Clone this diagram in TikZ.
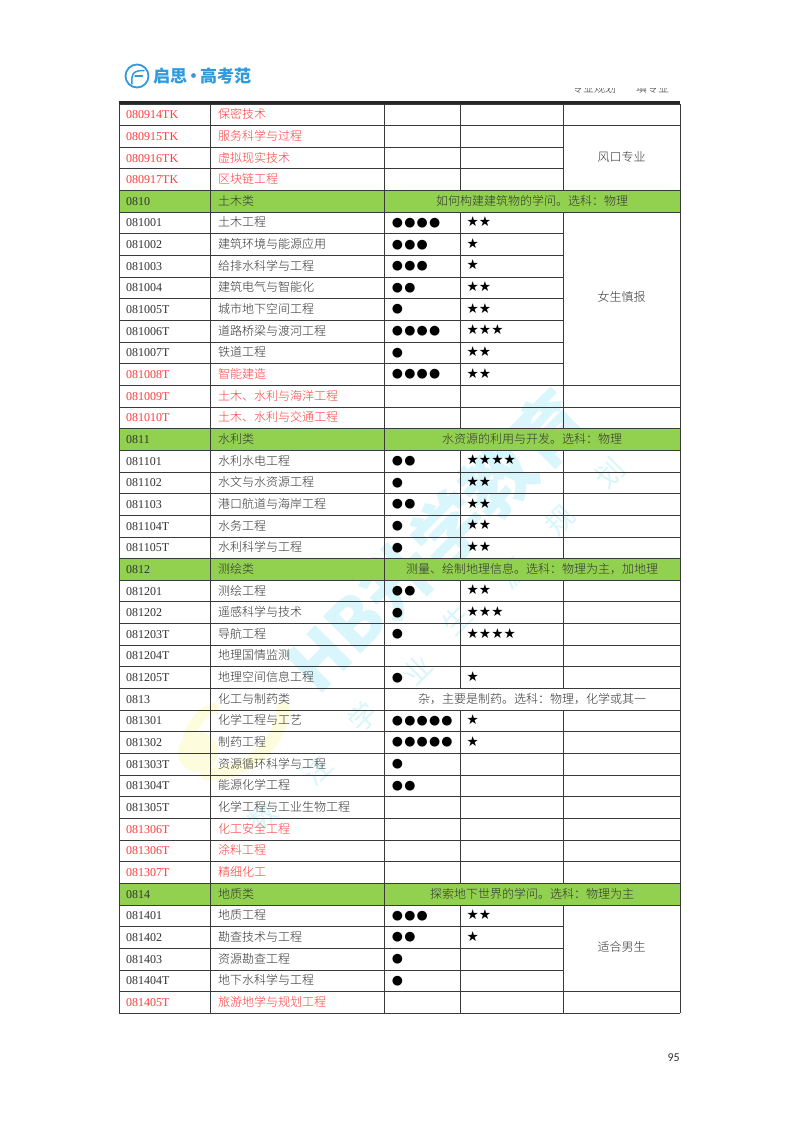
\documentclass[tikz,border=0pt]{standalone}
\usepackage{fontspec}
\setmainfont{Liberation Serif}
\newfontfamily\cjk{Noto Sans CJK SC Light}
\newfontfamily\cjkr{Noto Sans CJK SC}
\newfontfamily\cjkk{Noto Sans CJK SC Black}
\newfontfamily\sym{DejaVu Sans}
\newfontfamily\dotfont[LetterSpace=9.4]{DejaVu Sans}
\newfontfamily\pagefont{Carlito}
\definecolor{ink}{HTML}{333333}
\definecolor{redink}{HTML}{FF3B3B}
\definecolor{hdr}{HTML}{92D050}
\definecolor{rule}{HTML}{3A3A3A}
\definecolor{wm}{HTML}{D8F6FB}
\definecolor{wmy}{HTML}{FDFCDC}
\definecolor{brand}{HTML}{2F9BDC}
\newcount\rowno
\rowno=0
\newcommand{\rowY}[1]{\pgfmathsetmacro{\yy}{104+21.65*#1+14.7}}
\tikzset{
 codetext/.style={anchor=base west,inner sep=0pt,font=\fontsize{12}{14}\selectfont},
 nametext/.style={anchor=base west,inner sep=0pt,font=\fontsize{12}{14}\selectfont\cjk},
 desctext/.style={anchor=base,inner sep=0pt,font=\fontsize{12}{14}\selectfont\cjk,text=ink},
 dotstext/.style={anchor=base west,inner sep=0pt,font=\fontsize{12.8}{14}\selectfont\dotfont,text=black},
 starstext/.style={anchor=base west,inner sep=0pt,font=\fontsize{13.7}{16}\selectfont\sym,text=black},
 gridline/.style={draw=rule,line width=1pt},
 wmsmall/.style={inner sep=0pt,rotate=45,text=wm,font=\fontsize{28}{30}\selectfont\cjkr},
}
% colour, code, name, dots, stars
\newcommand{\mrow}[5]{%
 \rowY{\the\rowno}%
 \node[codetext,text=#1] (code\number\rowno) at (126,\yy) {#2};
 \node[nametext,text=#1] (name\number\rowno) at (218,\yy) {#3};
 \node[dotstext] (dots\number\rowno) at (391.7,\yy-0.6) {#4};
 \node[starstext] (star\number\rowno) at (466.5,\yy-0.3) {#5};
 \global\advance\rowno by 1
}
% code, name, description
\newcommand{\hrow}[3]{%
 \rowY{\the\rowno}%
 \node[codetext,text=ink] (code\number\rowno) at (126,\yy) {#1};
 \node[nametext,text=ink] (name\number\rowno) at (218,\yy) {#2};
 \node[desctext] (desc\number\rowno) at (532,\yy) {#3};
 \global\advance\rowno by 1
}
\begin{document}
\begin{tikzpicture}[x=1pt,y=-1pt]
\useasboundingbox (0,0) rectangle (800,1132);
\fill[white] (0,0) rectangle (800,1132);
% watermark
\fill[wmy] (198,752) circle (20);
\draw[wmy,line width=13pt,line cap=round] (207,774) .. controls (245,775) and (282,745) .. (283,708);
\draw[wmy,line width=11pt,line cap=round] (188,738) .. controls (193,722) and (203,712) .. (214,708);
\node[inner sep=0pt,rotate=45,text=wm,font=\fontsize{71}{76}\selectfont\cjkk] (wmbig) at (436,541) {HB升学教育};
\foreach \wx/\wy/\wt/\wn in {263/817/数/a,317/770/注/b,363/717/学/c,417/670/业/d,457/620/生/e,513/573/涯/f,560/520/规/g,610/473/划/h}
 \node[wmsmall] (wm\wn) at (\wx,\wy) {\wt};
% logo
\draw[brand,line width=1.8pt] (137,76) circle (11.5);
\draw[brand,line width=1.5pt,line cap=round] (132,84) .. controls (131,73) and (134,70.5) .. (144,70.5);
\draw[brand,line width=1.5pt,line cap=round] (135,76) -- (142.5,76);
\node[inner sep=0pt,anchor=base west,text=brand,font=\fontsize{17}{18}\selectfont\cjkk] (brandname) at (153,82.5) {启思\hspace{-2pt}·\hspace{-2pt}高考范};
% clipped running head
\begin{scope}
\clip (560,88.5) rectangle (690,94);
\node[inner sep=0pt,anchor=base west,text=ink,font=\fontsize{11}{12}\selectfont\cjk] (heada) at (572,92.5) {专业规划};
\node[inner sep=0pt,anchor=base west,text=ink,font=\fontsize{11}{12}\selectfont\cjk] (headb) at (636,92.5) {填专业};
\end{scope}
% header fills
\foreach \h in {4,15,21,36}
 \fill[hdr] (119,{104+21.65*\h}) rectangle (680,{104+21.65*(\h+1)});
% grid: horizontals
\foreach \i in {0,...,42}
 \draw[gridline] (119,{104+21.65*\i}) -- (563,{104+21.65*\i});
\foreach \i in {0,1,4,5,13,14,15,16,17,18,19,20,21,22,23,24,25,26,27,28,29,30,31,32,33,34,35,36,37,41,42}
 \draw[gridline] (563,{104+21.65*\i}) -- (680,{104+21.65*\i});
% grid: verticals
\foreach \cx in {119.5,210.5,384.5,680}
 \draw[gridline] (\cx,104) -- (\cx,{104+21.65*42});
\foreach \i in {0,1,2,3,5,6,7,8,9,10,11,12,13,14,16,17,18,19,20,22,23,24,25,26,28,29,30,31,32,33,34,35,37,38,39,40,41}{
 \draw[gridline] (460,{104+21.65*\i}) -- (460,{104+21.65*(\i+1)});
 \draw[gridline] (563,{104+21.65*\i}) -- (563,{104+21.65*(\i+1)});
}
\draw[draw=black!85,line width=3pt] (119,102.7) -- (680,102.7);
% rows
\mrow{redink}{080914TK}{保密技术}{}{}
\mrow{redink}{080915TK}{服务科学与过程}{}{}
\mrow{redink}{080916TK}{虚拟现实技术}{}{}
\mrow{redink}{080917TK}{区块链工程}{}{}
\hrow{0810}{土木类}{如何构建建筑物的学问。选科：物理}
\mrow{ink}{081001}{土木工程}{●●●●}{★★}
\mrow{ink}{081002}{建筑环境与能源应用}{●●●}{★}
\mrow{ink}{081003}{给排水科学与工程}{●●●}{★}
\mrow{ink}{081004}{建筑电气与智能化}{●●}{★★}
\mrow{ink}{081005T}{城市地下空间工程}{●}{★★}
\mrow{ink}{081006T}{道路桥梁与渡河工程}{●●●●}{★★★}
\mrow{ink}{081007T}{铁道工程}{●}{★★}
\mrow{redink}{081008T}{智能建造}{●●●●}{★★}
\mrow{redink}{081009T}{土木、水利与海洋工程}{}{}
\mrow{redink}{081010T}{土木、水利与交通工程}{}{}
\hrow{0811}{水利类}{水资源的利用与开发。选科：物理}
\mrow{ink}{081101}{水利水电工程}{●●}{★★★★}
\mrow{ink}{081102}{水文与水资源工程}{●}{★★}
\mrow{ink}{081103}{港口航道与海岸工程}{●●}{★★}
\mrow{ink}{081104T}{水务工程}{●}{★★}
\mrow{ink}{081105T}{水利科学与工程}{●}{★★}
\hrow{0812}{测绘类}{测量、绘制地理信息。选科：物理为主，加地理}
\mrow{ink}{081201}{测绘工程}{●●}{★★}
\mrow{ink}{081202}{遥感科学与技术}{●}{★★★}
\mrow{ink}{081203T}{导航工程}{●}{★★★★}
\mrow{ink}{081204T}{地理国情监测}{}{}
\mrow{ink}{081205T}{地理空间信息工程}{●}{★}
\hrow{0813}{化工与制药类}{杂，主要是制药。选科：物理，化学或其一}
\mrow{ink}{081301}{化学工程与工艺}{●●●●●}{★}
\mrow{ink}{081302}{制药工程}{●●●●●}{★}
\mrow{ink}{081303T}{资源循环科学与工程}{●}{}
\mrow{ink}{081304T}{能源化学工程}{●●}{}
\mrow{ink}{081305T}{化学工程与工业生物工程}{}{}
\mrow{redink}{081306T}{化工安全工程}{}{}
\mrow{redink}{081306T}{涂料工程}{}{}
\mrow{redink}{081307T}{精细化工}{}{}
\hrow{0814}{地质类}{探索地下世界的学问。选科：物理为主}
\mrow{ink}{081401}{地质工程}{●●●}{★★}
\mrow{ink}{081402}{勘查技术与工程}{●●}{★}
\mrow{ink}{081403}{资源勘查工程}{●}{}
\mrow{ink}{081404T}{地下水科学与工程}{●}{}
\mrow{redink}{081405T}{旅游地学与规划工程}{}{}
% merged notes
\node[desctext] (noteA) at (621.5,161) {风口专业};
\node[desctext] (noteB) at (621.5,301.5) {女生慎报};
\node[desctext] (noteC) at (621.5,951) {适合男生};
\node[inner sep=0pt,anchor=base east,text=ink,font=\fontsize{12}{14}\selectfont\pagefont] (pageno) at (680,1061) {95};
\end{tikzpicture}
\end{document}
